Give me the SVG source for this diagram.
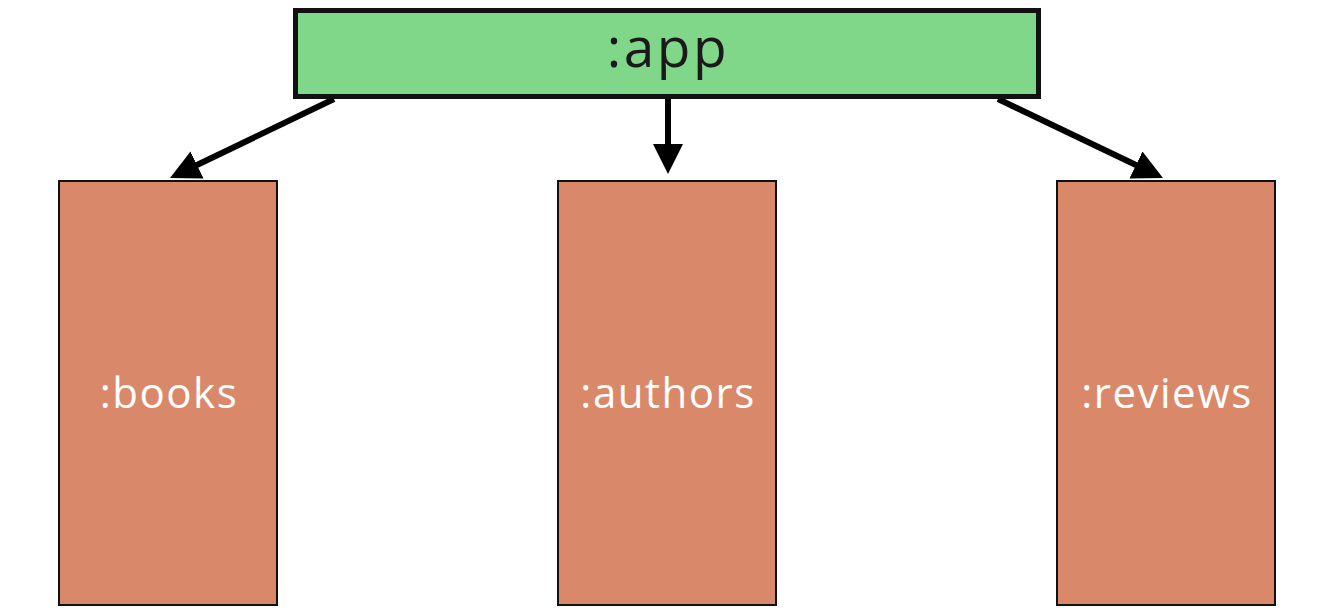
<svg xmlns="http://www.w3.org/2000/svg" width="1344" height="616" viewBox="0 0 1344 616">
<style>
.app{fill:#80d78a;stroke:#111;stroke-width:5}
.mod{fill:#d9896a;stroke:#111;stroke-width:2}
.t1{font-family:"Open Sans","Liberation Sans",sans-serif;font-size:55px;letter-spacing:2.5px;fill:#1a1a1a;text-anchor:middle}
.t2{font-family:"Open Sans","Liberation Sans",sans-serif;font-size:42px;letter-spacing:1.5px;fill:#ffffff;text-anchor:middle}
.edge{stroke:#000;stroke-width:6;fill:none}
</style>
<defs>
<marker id="ah" viewBox="0 0 10 10" refX="6" refY="5" markerWidth="5" markerHeight="5" markerUnits="strokeWidth" orient="auto">
<path d="M0,0 L10,5 L0,10 Z" fill="#000"/>
</marker>
</defs>
<rect width="1344" height="616" fill="#ffffff"/>
<g id="connectors">
<line class="edge" x1="334" y1="99" x2="180.8" y2="172.8" marker-end="url(#ah)"/>
<line class="edge" x1="668" y1="99" x2="668" y2="162" marker-end="url(#ah)"/>
<line class="edge" x1="998" y1="99" x2="1152.2" y2="172.8" marker-end="url(#ah)"/>
</g>
<g id="app">
<rect class="app" x="295.5" y="10.5" width="743" height="86"/>
<text class="t1" x="668" y="67">:app</text>
</g>
<g id="books">
<rect class="mod" x="59" y="181" width="218" height="424"/>
<text class="t2" x="169" y="408">:books</text>
</g>
<g id="authors">
<rect class="mod" x="558" y="181" width="218" height="424"/>
<text class="t2" x="668" y="408">:authors</text>
</g>
<g id="reviews">
<rect class="mod" x="1057" y="181" width="218" height="424"/>
<text class="t2" x="1167" y="408">:reviews</text>
</g>
</svg>
